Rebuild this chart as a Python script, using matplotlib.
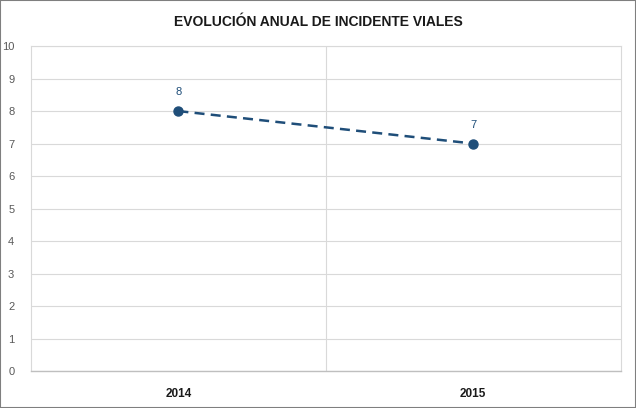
import matplotlib
matplotlib.use("Agg")
import matplotlib.pyplot as plt

# datos
years = ["2014", "2015"]
incidents = [8, 7]
y_ticks = list(range(0, 11))

plt.rcParams['font.family'] = ['Liberation Sans', 'DejaVu Sans']

fig = plt.figure(figsize=(6.36, 4.08), dpi=100)
ax = fig.add_axes([0.0487, 0.0907, 0.9273, 0.7963])

x = list(range(len(years)))
line_color = "#1F4E79"
ax.plot(x, incidents, linestyle=(0, (4, 2.5)), color=line_color, linewidth=1.8,
        marker='o', markersize=6.5, zorder=3)

for xi, v in zip(x, incidents):
    ax.annotate(str(v), (xi, v), xytext=(0, 10), textcoords="offset points",
                ha="center", va="bottom", fontsize=8, color=line_color)

ax.set_xlim(-0.5, len(years) - 0.5)
ax.set_ylim(0, 10)
ax.set_yticks(y_ticks)
ax.set_xticks(x)
ax.set_xticklabels(years, fontsize=8.5, fontweight="bold", color="#1a1a1a")
ax.tick_params(axis='y', labelsize=8, colors="#595959", length=0, pad=12)
ax.tick_params(axis='x', length=0, pad=12)

# grid
ax.grid(axis='y', color="#d9d9d9", linewidth=0.8)
for b in [0.5]:
    ax.axvline(b, color="#d9d9d9", linewidth=0.8, zorder=0)
for s in ['top', 'left', 'right']:
    ax.spines[s].set_color("#d9d9d9")
    ax.spines[s].set_linewidth(0.8)
ax.spines['bottom'].set_color("#bfbfbf")
ax.spines['bottom'].set_linewidth(1.0)
ax.set_axisbelow(True)

fig.text(0.5, 0.945, "EVOLUCIÓN ANUAL DE INCIDENTE VIALES", ha="center", va="center",
         fontsize=10, fontweight="bold", color="#1a1a1a")

fig.patches.append(plt.Rectangle((0, 0), 1, 1, transform=fig.transFigure, fill=False,
                                 edgecolor="#7f7f7f", linewidth=1.5))

fig.savefig("out.png", dpi=100)
